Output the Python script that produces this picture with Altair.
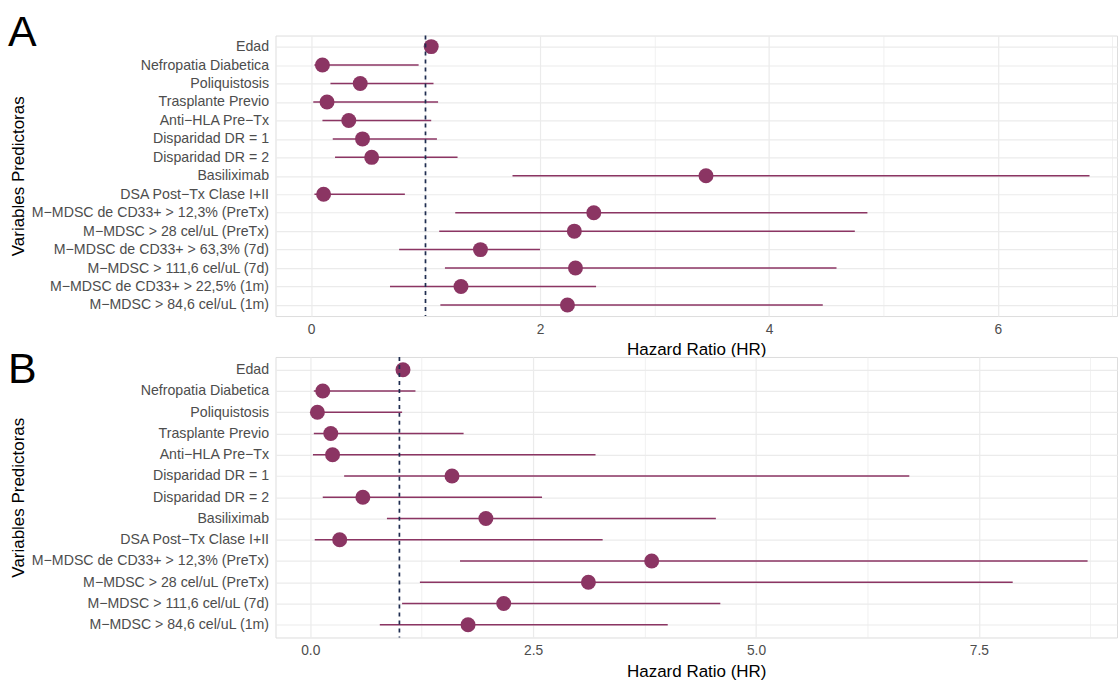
import altair as alt
import pandas as pd

# Panel A: overall model
vars_a = [
    "Edad", "Nefropatia Diabetica", "Poliquistosis", "Trasplante Previo",
    "Anti−HLA Pre−Tx", "Disparidad DR = 1", "Disparidad DR = 2", "Basiliximab",
    "DSA Post−Tx Clase I+II", "M−MDSC de CD33+ > 12,3% (PreTx)",
    "M−MDSC > 28 cel/uL (PreTx)", "M−MDSC de CD33+ > 63,3% (7d)",
    "M−MDSC > 111,6 cel/uL (7d)", "M−MDSC de CD33+ > 22,5% (1m)",
    "M−MDSC > 84,6 cel/uL (1m)",
]
hr_a = [1.05, 0.10, 0.43, 0.14, 0.33, 0.45, 0.53, 3.45, 0.11, 2.47, 2.30, 1.48, 2.31, 1.31, 2.24]
lo_a = [1.01, 0.03, 0.17, 0.02, 0.10, 0.19, 0.21, 1.76, 0.03, 1.26, 1.12, 0.77, 1.17, 0.69, 1.13]
hi_a = [1.09, 0.94, 1.07, 1.11, 1.05, 1.10, 1.28, 6.80, 0.82, 4.86, 4.75, 2.00, 4.59, 2.49, 4.47]

# Panel B
vars_b = [
    "Edad", "Nefropatia Diabetica", "Poliquistosis", "Trasplante Previo",
    "Anti−HLA Pre−Tx", "Disparidad DR = 1", "Disparidad DR = 2", "Basiliximab",
    "DSA Post−Tx Clase I+II", "M−MDSC de CD33+ > 12,3% (PreTx)",
    "M−MDSC > 28 cel/uL (PreTx)", "M−MDSC > 111,6 cel/uL (7d)",
    "M−MDSC > 84,6 cel/uL (1m)",
]
hr_b = [1.04, 0.14, 0.08, 0.23, 0.25, 1.59, 0.59, 1.97, 0.33, 3.83, 3.12, 2.17, 1.77]
lo_b = [1.01, 0.04, 0.02, 0.04, 0.03, 0.38, 0.14, 0.86, 0.05, 1.68, 1.23, 1.03, 0.78]
hi_b = [1.08, 1.18, 1.03, 1.72, 3.20, 6.72, 2.60, 4.55, 3.28, 8.72, 7.88, 4.60, 4.01]

ticks_a = [0, 1, 2, 3, 4, 5, 6, 7]
ticks_b = [0, 1.25, 2.5, 3.75, 5, 6.25, 7.5, 8.75]

POINT = "#8B3563"
REF = "#1F2D50"
FONT = "Liberation Sans"
W, H = 843, 281


def forest(variables, hr, lo, hi, domain, ticks, major_test, fmt, tag, tag_y):
    df = pd.DataFrame({"var": variables, "hr": hr, "lo": lo, "hi": hi})
    x_axis = alt.Axis(
        title="Hazard Ratio (HR)", values=ticks, format=fmt,
        labelExpr=f"{major_test} ? datum.label : ''",
        grid=True, gridColor="#EBEBEB",
        gridWidth={"condition": {"test": major_test, "value": 1.2}, "value": 0.7},
        domain=False, ticks=False, labelPadding=6, titlePadding=6,
        labelFontSize=13.8, labelColor="#4D4D4D", labelFont=FONT,
        titleFontSize=17, titleFontWeight="normal", titleColor="#000000", titleFont=FONT,
    )
    y_axis = alt.Axis(
        title="Variables Predictoras", grid=True, gridColor="#EBEBEB", gridWidth=1.2,
        domain=False, ticks=False, labelPadding=7,
        titleX=-257, titleY=H / 2, titleAngle=-90, titleAlign="center",
        titleBaseline="middle",
        labelFontSize=14.2, labelColor="#4D4D4D", labelFont=FONT, labelLimit=400,
        titleFontSize=17, titleFontWeight="normal", titleColor="#000000", titleFont=FONT,
    )
    x = alt.X("lo:Q", scale=alt.Scale(domain=domain, nice=False, zero=False), axis=x_axis)
    y = alt.Y("var:N", sort=variables, scale=alt.Scale(type="point", padding=0.6), axis=y_axis)

    base = alt.Chart(df)
    ci = base.mark_rule(color=POINT, strokeWidth=1.5).encode(x=x, x2="hi:Q", y=y)
    pts = base.mark_circle(color=POINT, size=225, opacity=1).encode(x="hr:Q", y=y)
    ref = alt.Chart(pd.DataFrame({"v": [1]})).mark_rule(
        color=REF, strokeDash=[4, 4], strokeWidth=1.7
    ).encode(x="v:Q")
    label = alt.Chart(pd.DataFrame({"t": [tag]})).mark_text(
        align="left", baseline="alphabetic", fontSize=43, font=FONT, color="#000000"
    ).encode(text="t:N", x=alt.value(-268), y=alt.value(tag_y))
    return alt.layer(ci, pts, ref, label).properties(width=W, height=H)


panel_a = forest(vars_a, hr_a, lo_a, hi_a, [-0.31, 7.04], ticks_a,
                 "datum.value % 2 == 0", "d", "A", 10)
panel_b = forest(vars_b, hr_b, lo_b, hi_b, [-0.39, 9.05], ticks_b,
                 "datum.value % 2.5 == 0", ".1f", "B", 26)

chart = alt.vconcat(panel_a, panel_b, spacing=41, bounds="flush").properties(
    padding={"left": 7, "top": 10, "right": 0, "bottom": 5}
).configure_view(stroke=None).configure(background="white")

chart.save("out.html", embed_options={"renderer": "svg", "actions": False})
